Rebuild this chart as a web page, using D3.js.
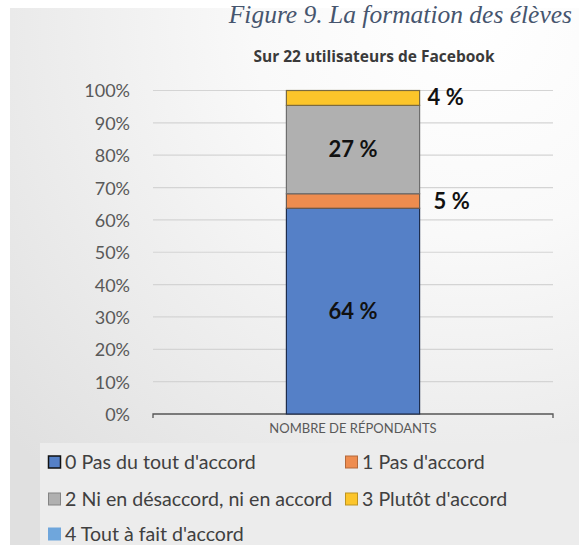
<!DOCTYPE html>
<html><head><meta charset="utf-8">
<script src="https://cdn.jsdelivr.net/npm/d3@7"></script>
<style>html,body{margin:0;padding:0;background:#fff;}svg{display:block;}</style>
</head><body>
<svg id="c" width="579" height="545"></svg>
<script>
const title = "Figure 9. La formation des élèves";
const subtitle = "Sur 22 utilisateurs de Facebook";
const category = "NOMBRE DE RÉPONDANTS";
const seriesNames = ["0 Pas du tout d'accord","1 Pas d'accord","2 Ni en désaccord, ni en accord","3 Plutôt d'accord","4 Tout à fait d'accord"];
const seriesValues = [63.6, 4.5, 27.3, 4.6, 0];
const valueLabels = ["64 %","5 %","27 %","4 %",""];
const seriesColors = ["#5580c7","#ee8c4f","#b0b0b0","#fcc52a","#6fa6dc"];
const seriesStroke = ["#1e2d4d","#6b5a50","#6e6e6e","#7a6a40","#6fa6dc"];
const yTicks = [0,10,20,30,40,50,60,70,80,90,100];

const svg = d3.select("#c");
const defs = svg.append("defs");
const rg = defs.append("radialGradient").attr("id","bg").attr("gradientUnits","userSpaceOnUse")
  .attr("cx",470).attr("cy",20).attr("r",620);
rg.append("stop").attr("offset","0").attr("stop-color","#ffffff");
rg.append("stop").attr("offset","0.35").attr("stop-color","#f9f9f9");
rg.append("stop").attr("offset","1").attr("stop-color","#e0e0e0");

svg.append("rect").attr("x",10).attr("y",8).attr("width",569).attr("height",537).attr("fill","url(#bg)");
svg.append("rect").attr("x",40).attr("y",443).attr("width",539).attr("height",102).attr("fill","#ececec");

// title
svg.append("text").attr("x",572).attr("y",23).attr("text-anchor","end")
  .attr("font-family","Liberation Serif").attr("font-style","italic").attr("font-size",25.5)
  .attr("fill","#46556e").text(title);
svg.append("text").attr("x",374).attr("y",62).attr("text-anchor","middle")
  .attr("font-family","Open Sans").attr("font-weight","bold").attr("font-size",15.5)
  .attr("fill","#3a3a3a").text(subtitle);

const y = d3.scaleLinear().domain([0,100]).range([414,90.5]);
const x = d3.scaleBand().domain([category]).range([153,553]).paddingInner(0.667).paddingOuter(0.333);

// gridlines
const grid = svg.append("g");
grid.selectAll("line").data(yTicks.filter(t=>t>0)).join("line")
  .attr("x1",153).attr("x2",553).attr("y1",d=>y(d)).attr("y2",d=>y(d))
  .attr("stroke","#d4d4d4").attr("stroke-width",1.2);

// y axis labels
const yAxis = d3.axisLeft(y).tickValues(yTicks).tickFormat(d=>d+"%").tickSize(0).tickPadding(23);
const ga = svg.append("g").attr("transform","translate(153,0)").call(yAxis);
ga.select(".domain").remove();
ga.selectAll("text").attr("font-family","Lato").attr("font-size",18).attr("fill","#595959").attr("dy","0.36em");

// x axis
const xAxis = d3.axisBottom(x).tickSize(0).tickPadding(10);
const gx = svg.append("g").attr("transform","translate(0,414)").call(xAxis);
gx.select(".domain").attr("stroke","#555").attr("stroke-width",1.3).attr("d","M153,4V0H553V4");
gx.selectAll("text").attr("font-family","Lato").attr("font-size",13).attr("fill","#595959");

// stacked bar
const stack = [];
let acc = 0;
seriesValues.forEach((v,i)=>{stack.push({i,v,y0:acc,y1:acc+v});acc+=v;});
const bw = x.bandwidth();
const bx = x(category);
svg.append("g").selectAll("rect").data(stack.filter(d=>d.v>0)).join("rect")
  .attr("x",bx).attr("width",bw)
  .attr("y",d=>y(d.y1)).attr("height",d=>y(d.y0)-y(d.y1))
  .attr("fill",d=>seriesColors[d.i]).attr("stroke",d=>seriesStroke[d.i]).attr("stroke-width",1.2);

// value labels
const lbl = svg.append("g").attr("font-family","Lato").attr("font-weight","bold").attr("font-size",22).attr("fill","#111");
stack.forEach(d=>{
  if(!valueLabels[d.i]) return;
  const inside = d.v > 10;
  const t = lbl.append("text").text(valueLabels[d.i]).attr("dy","0.36em");
  if(inside){
    t.attr("x",bx+bw/2).attr("y",y((d.y0+d.y1)/2)).attr("text-anchor","middle");
  } else {
    t.attr("x",bx+bw+(d.i===1?14:8)).attr("y",y((d.y0+d.y1)/2)+(d.i===3?-1:0)).attr("text-anchor","start");
  }
});

// legend
const legPos = [[48,462],[345,462],[48,499],[345,499],[48,534]];
const leg = svg.append("g");
seriesNames.forEach((n,i)=>{
  const [lx,ly] = legPos[i];
  leg.append("rect").attr("x",lx+0.5).attr("y",ly-6).attr("width",12).attr("height",12)
    .attr("fill",seriesColors[i]).attr("stroke",i===0?"#111":(i===4?seriesColors[i]:d3.color(seriesColors[i]).darker(0.8))).attr("stroke-width",i===0?1.5:1);
  leg.append("text").attr("x",lx+17).attr("y",ly).attr("dy","0.35em")
    .attr("font-family","Lato").attr("font-size",19.6).attr("fill","#404040").text(n);
});
</script>
</body></html>
